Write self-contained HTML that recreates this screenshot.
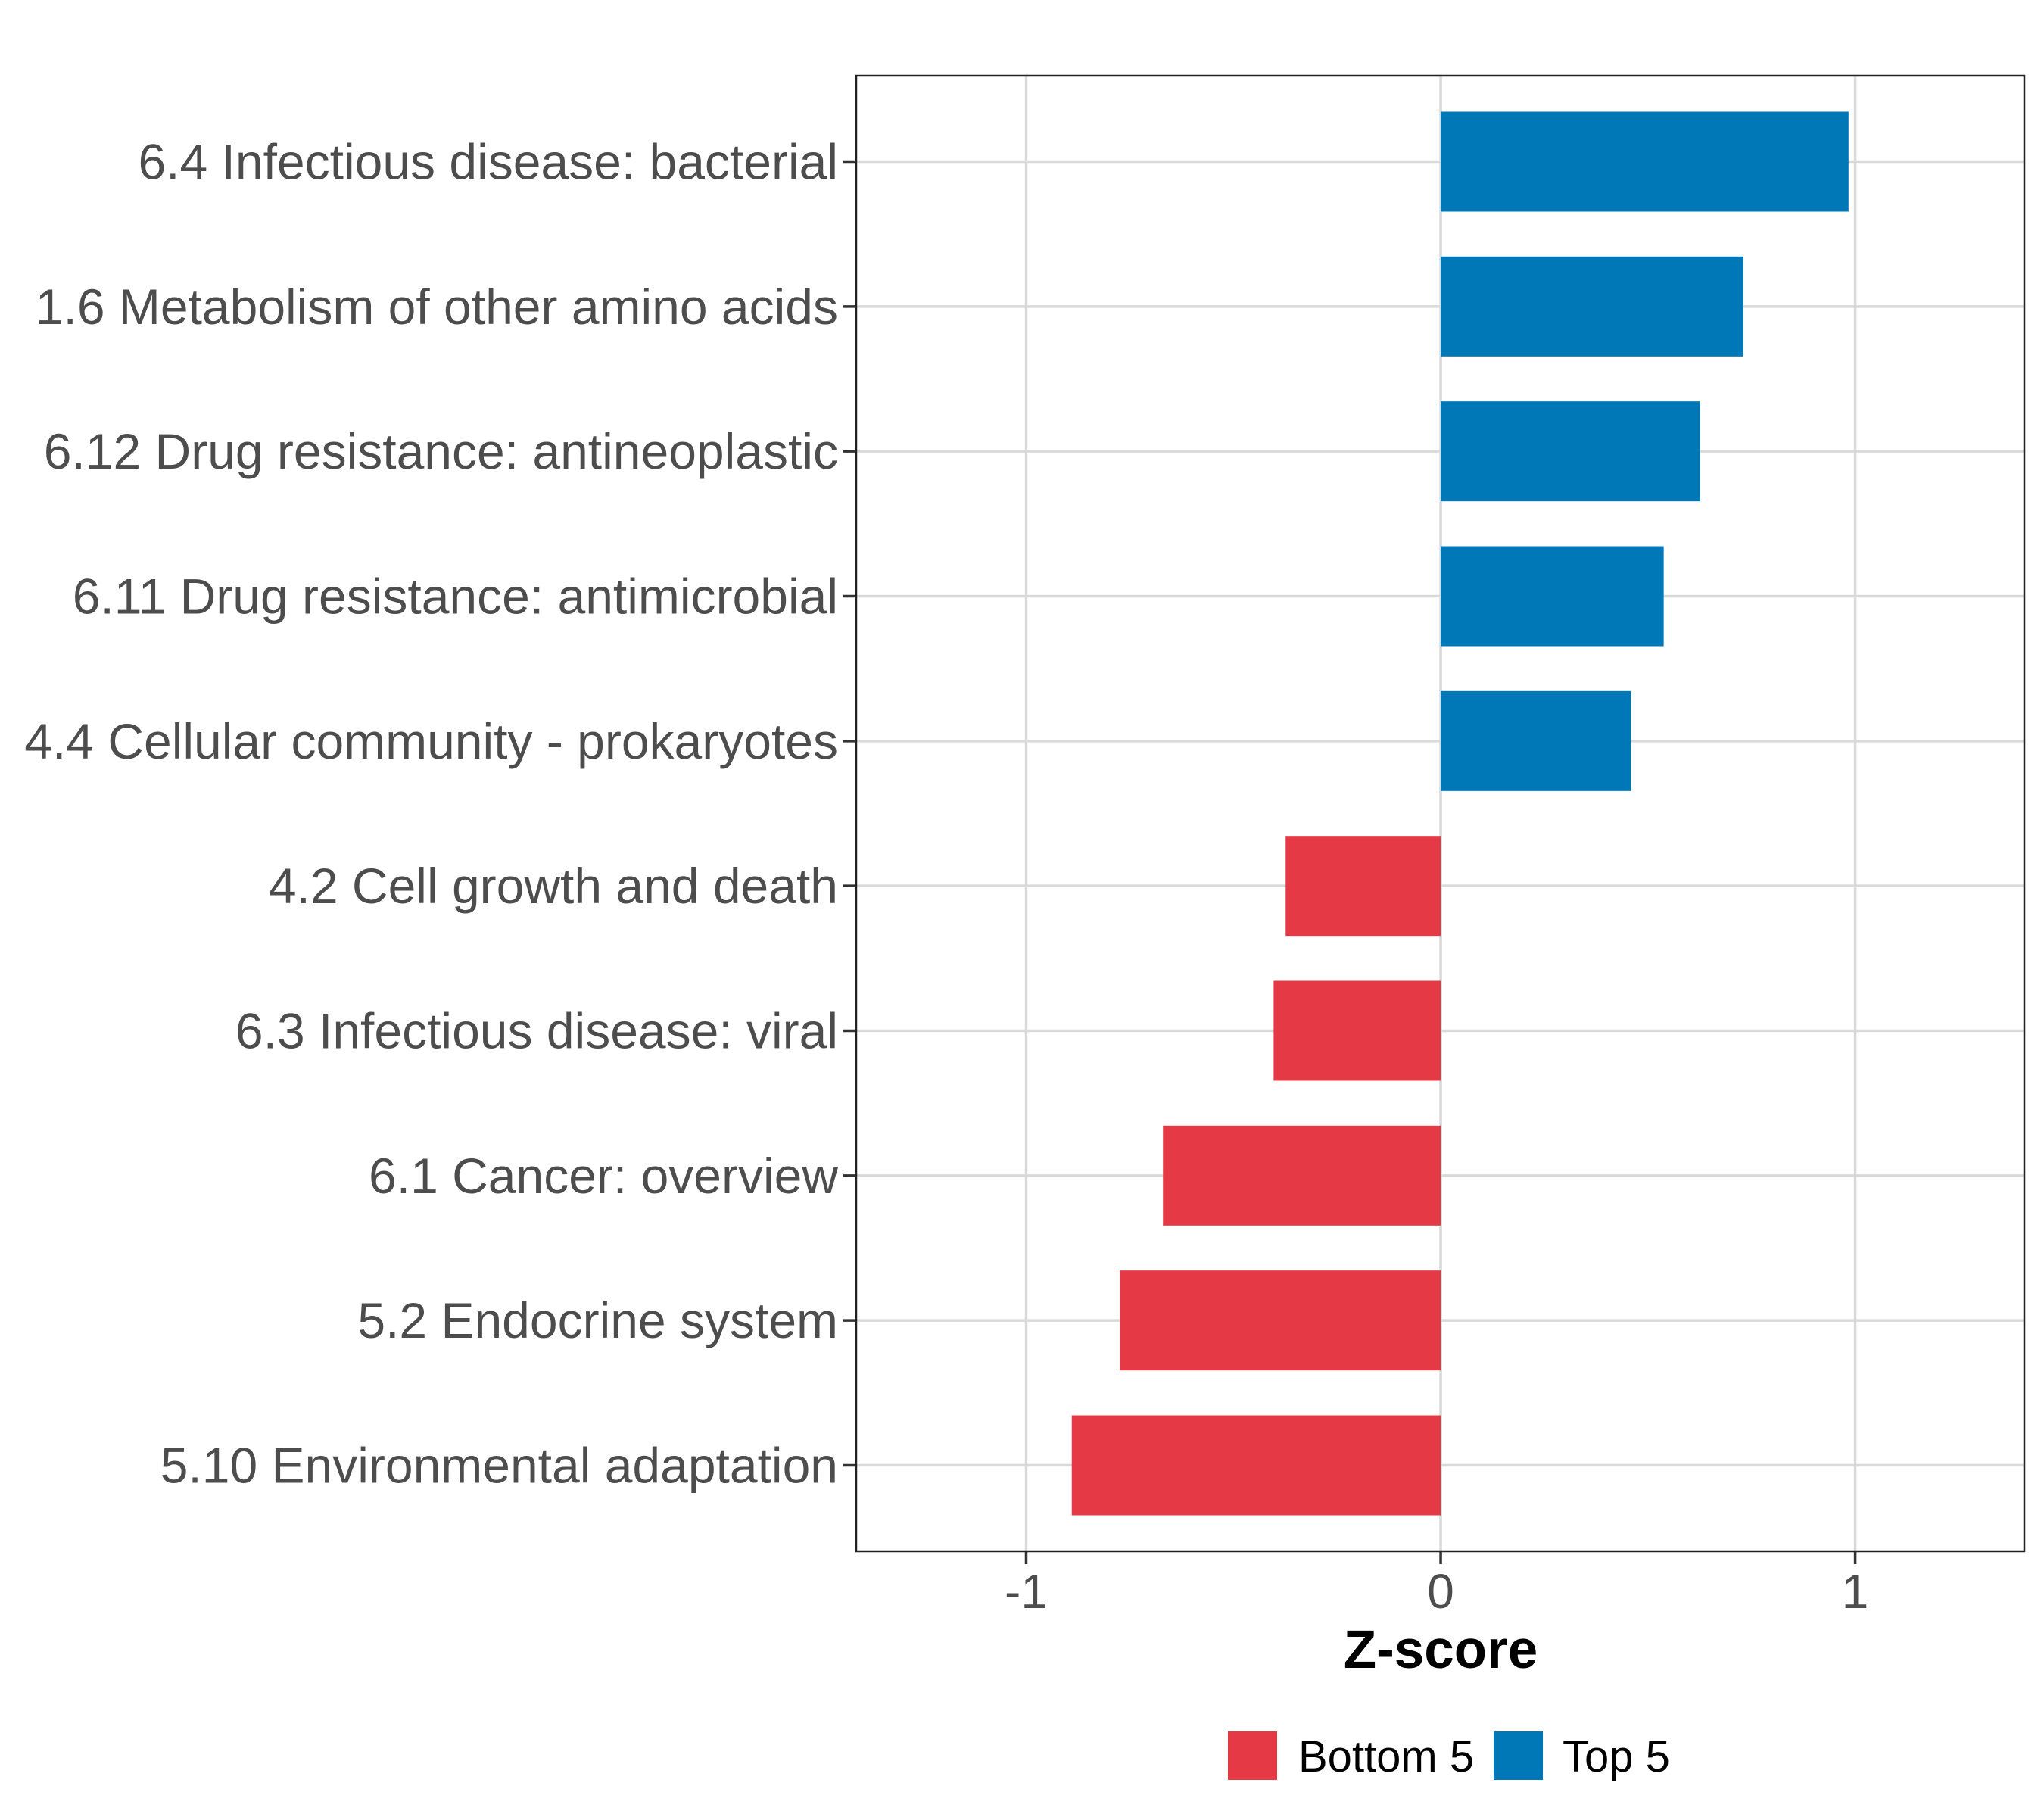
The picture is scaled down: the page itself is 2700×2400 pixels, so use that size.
<!DOCTYPE html>
<html><head><meta charset="utf-8"><style>
html,body{margin:0;padding:0;background:#fff;}
svg{display:block;font-family:"Liberation Sans",sans-serif;}
</style></head><body>
<svg id="chart" width="2700" height="2400" viewBox="0 0 2700 2400">
<rect x="0" y="0" width="2700" height="2400" fill="#fff"/>
<g id="grid"></g><g id="bars"></g><g id="yaxis"></g><g id="xaxis"></g>
<rect x="1131" y="100" width="1543" height="1949" fill="none" stroke="#222" stroke-width="2.5"/>
<text x="1903" y="2203" text-anchor="middle" font-size="71" font-weight="bold" fill="#000">Z-score</text>
<g>
<rect x="1622" y="2287" width="65" height="64" fill="#E63946"/>
<text x="1715" y="2340" font-size="58" fill="#000">Bottom 5</text>
<rect x="1973" y="2287" width="65" height="64" fill="#0077B6"/>
<text x="2064" y="2340" font-size="58" fill="#000">Top 5</text>
</g>
</svg>
<script>
const categories = ["6.4 Infectious disease: bacterial","1.6 Metabolism of other amino acids","6.12 Drug resistance: antineoplastic","6.11 Drug resistance: antimicrobial","4.4 Cellular community - prokaryotes","4.2 Cell growth and death","6.3 Infectious disease: viral","6.1 Cancer: overview","5.2 Endocrine system","5.10 Environmental adaptation"];
const values = [0.984,0.73,0.626,0.538,0.459,-0.374,-0.403,-0.67,-0.774,-0.89];
const groups = ["Top 5","Top 5","Top 5","Top 5","Top 5","Bottom 5","Bottom 5","Bottom 5","Bottom 5","Bottom 5"];
const xTicks = [-1,0,1];
const xTickLabels = ["-1","0","1"];

const NS="http://www.w3.org/2000/svg";
const L=1131,R=2674,T=100,B=2049,xMin=-1.41,xMax=1.408;
function xs(v){return L+(v-xMin)/(xMax-xMin)*(R-L);}
const firstY=213.5,lastY=1935.5;
function ys(i){return firstY+(lastY-firstY)*i/(categories.length-1);}
function mk(tag,attrs,parent){const e=document.createElementNS(NS,tag);for(const k in attrs)e.setAttribute(k,attrs[k]);parent.appendChild(e);return e;}
const grid=document.getElementById('grid'),bars=document.getElementById('bars'),ya=document.getElementById('yaxis'),xa=document.getElementById('xaxis');
xTicks.forEach((t,i)=>{
  const g=mk('line',{x1:xs(t),x2:xs(t),y1:T,y2:B,stroke:'#d9d9d9','stroke-width':3.5},grid);
  
  
  const tk=mk('line',{x1:xs(t),x2:xs(t),y1:B,y2:B+17,stroke:'#333','stroke-width':3.5},xa);
  
  
  const tx=mk('text',{x:xs(t),y:2124,'text-anchor':'middle','font-size':64,fill:'#4d4d4d'},xa);
  tx.textContent=xTickLabels[i];
  
  
});
categories.forEach((c,i)=>{
  const y=ys(i);
  const g=mk('line',{x1:L,x2:R,y1:y,y2:y,stroke:'#d9d9d9','stroke-width':3.5},grid);
  
  
  const v=values[i],x0=xs(0),x1=xs(v);
  const b=mk('rect',{x:Math.min(x0,x1),y:y-66,width:Math.abs(x1-x0),height:132,fill:groups[i]==='Top 5'?'#0077B6':'#E63946'},bars);
  
  
  const tk=mk('line',{x1:L-17,x2:L,y1:y,y2:y,stroke:'#333','stroke-width':3.5},ya);
  
  
  const tx=mk('text',{x:L-24,y:y+23,'text-anchor':'end','font-size':66,fill:'#4d4d4d'},ya);
  tx.textContent=c;
  
  
});
</script>
</body></html>
